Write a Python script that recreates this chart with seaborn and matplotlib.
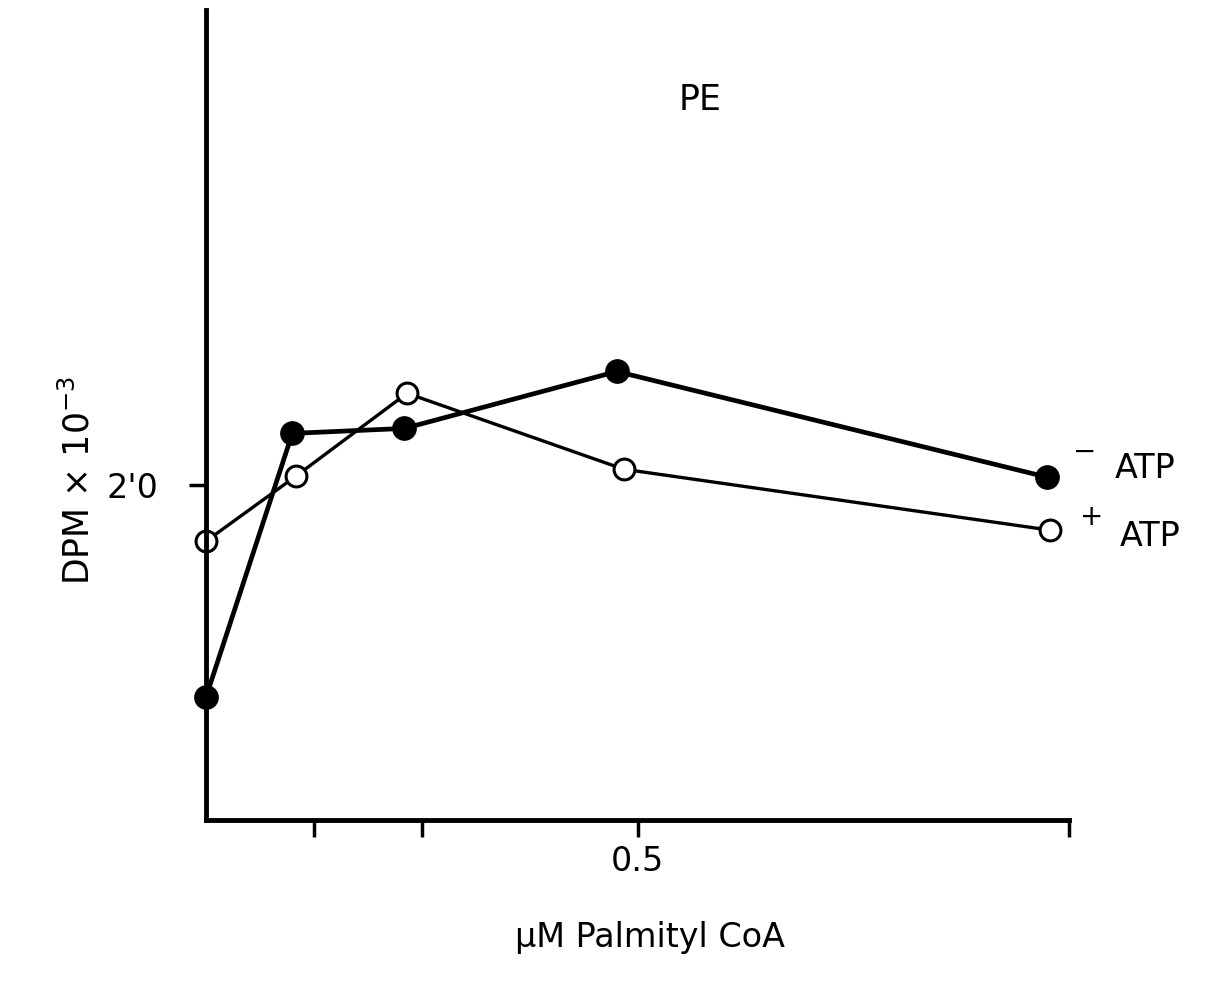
import matplotlib
matplotlib.use("Agg")
import matplotlib.pyplot as plt
import seaborn as sns
import pandas as pd

# data
x_minus = [0.0, 0.10, 0.23, 0.476, 0.975]
y_minus = [1.367, 2.155, 2.170, 2.340, 2.024]
x_plus = [0.0, 0.104, 0.233, 0.484, 0.978]
y_plus = [1.833, 2.027, 2.275, 2.048, 1.866]
x_ticks = [0.125, 0.25, 0.5, 1.0]
x_tick_labels = ["", "", "0.5", ""]
y_ticks = [2.0]
y_tick_labels = ["2'0"]

sns.set_theme(style="white")
plt.rcParams['font.family'] = ['DejaVu Sans']
plt.rcParams['text.color'] = 'black'
plt.rcParams['xtick.color'] = 'black'
plt.rcParams['ytick.color'] = 'black'
plt.rcParams['xtick.labelcolor'] = 'black'
plt.rcParams['ytick.labelcolor'] = 'black'

fig = plt.figure(figsize=(12.08, 9.86), dpi=100)
ax = fig.add_axes([206/1208, 1-820/986, (1069-206)/1208, (820-10)/986])

df_m = pd.DataFrame({"x": x_minus, "y": y_minus})
df_p = pd.DataFrame({"x": x_plus, "y": y_plus})
sns.lineplot(data=df_m, x="x", y="y", ax=ax, color="black", lw=3.4,
             marker="o", markersize=17, markerfacecolor="black",
             markeredgecolor="black", sort=False, clip_on=False)
sns.lineplot(data=df_p, x="x", y="y", ax=ax, color="black", lw=2.4,
             marker="o", markersize=15, markerfacecolor="white",
             markeredgecolor="black", markeredgewidth=2.2, sort=False, clip_on=False)

ax.set_xlim(0, 1.0)
ax.set_ylim(1.0, 3.42)
for s in ["top", "right"]:
    ax.spines[s].set_visible(False)
for s in ["left", "bottom"]:
    ax.spines[s].set_linewidth(3.5)
    ax.spines[s].set_color("black")

ax.set_xticks(x_ticks)
ax.set_xticklabels(x_tick_labels, fontsize=24, color="black")
ax.set_yticks(y_ticks)
ax.set_yticklabels(y_tick_labels, fontsize=24, color="black")
ax.tick_params(axis="both", direction="out", length=12, width=2.5, color="black",
               left=True, bottom=True, pad=6)
ax.tick_params(axis="y", pad=22)
ax.set_xlabel("")
ax.set_ylabel("")

fig.text(650/1208, 1-937/986, "µM Palmityl CoA", fontsize=24, ha="center", va="center", color="black")
fig.text(78/1208, 1-480/986, "DPM × 10$^{-3}$", fontsize=25, ha="center", va="center",
         rotation=90, color="black")
fig.text(700/1208, 1-100/986, "PE", fontsize=25, ha="center", va="center", color="black")
fig.text(1145/1208, 1-468/986, "ATP", fontsize=24, ha="center", va="center", color="black")
fig.text(1085/1208, 1-452/986, "−", fontsize=20, ha="center", va="center", color="black")
fig.text(1150/1208, 1-537/986, "ATP", fontsize=24, ha="center", va="center", color="black")
fig.text(1092/1208, 1-517/986, "+", fontsize=20, ha="center", va="center", color="black")

fig.savefig("out.png", dpi=100)
